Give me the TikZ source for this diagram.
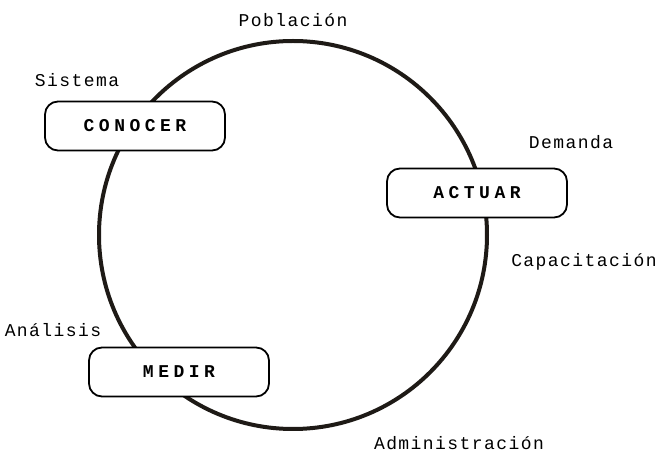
\documentclass[tikz,border=0pt]{standalone}
\usepackage{fontspec}
\setmonofont{Liberation Mono}
\newfontfamily\labfont[LetterSpace=8]{Liberation Mono}
\newfontfamily\boxfont[LetterSpace=25]{Liberation Mono}
\definecolor{ringcol}{HTML}{1E1A16}
\tikzset{
  phase/.style={draw=black, line width=1.8pt, fill=white, rounded corners=13pt,
    minimum width=180pt, minimum height=49pt, inner sep=0pt,
    font=\boxfont\fontsize{18}{20}\selectfont\bfseries},
  lab/.style={font=\labfont\fontsize{18}{20}\selectfont, inner sep=0pt},
  ring/.style={draw=ringcol, line width=4pt}
}
\begin{document}
\begin{tikzpicture}[x=1pt,y=-1pt]
\useasboundingbox (0,0) rectangle (657,454);
\node[circle, minimum size=388pt, inner sep=0pt] (ring) at (293,235) {};
\draw[ring] (ring.center) circle[radius=194pt];
\node[phase] (conocer) at (135,126) {CONOCER};
\node[phase] (actuar) at (477,193) {ACTUAR};
\node[phase] (medir) at (179,372) {MEDIR};
\node[lab] (poblacion) at (293,20) {Población};
\node[lab] (sistema) at (77,80) {Sistema};
\node[lab] (demanda) at (571,142) {Demanda};
\node[lab] (capacitacion) at (584,262) {Capacitación};
\node[lab] (analisis) at (53,330) {Análisis};
\node[lab] (administracion) at (459,443) {Administración};
\end{tikzpicture}
\end{document}
